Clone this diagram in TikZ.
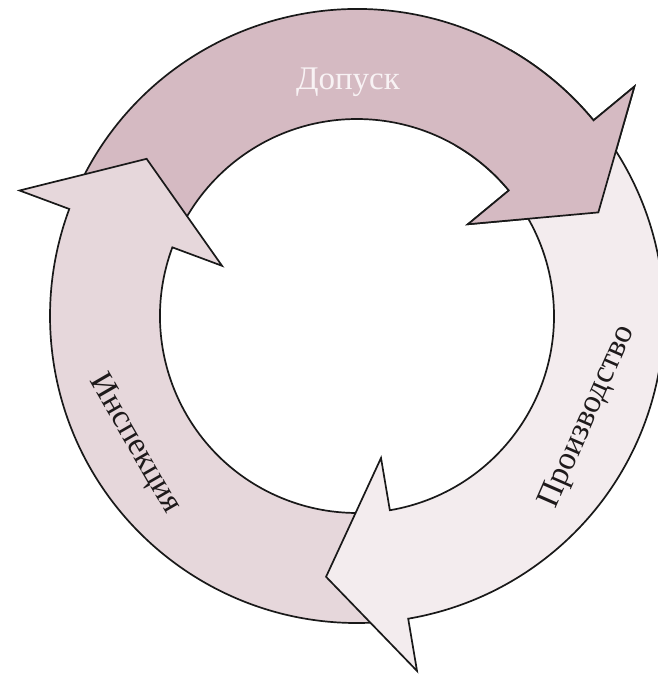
\documentclass[tikz,border=0pt]{standalone}
\usepackage{fontspec}
\setmainfont{Liberation Serif}
\usetikzlibrary{calc}
\definecolor{cDop}{HTML}{D5BAC2}
\definecolor{cIns}{HTML}{E6D7DB}
\definecolor{cPro}{HTML}{F3ECEE}
\definecolor{cTxt}{HTML}{1E1A1B}
\definecolor{cTxtW}{HTML}{F8F2F4}
\tikzset{
  ringarrow/.style={draw=black!90, line width=1.7pt, line join=miter},
  lbl/.style={font=\fontsize{33}{33}\selectfont, inner sep=0pt, text=cTxt},
}
\begin{document}
\begin{tikzpicture}
\useasboundingbox (0pt,0pt) rectangle (658pt,-678pt);
\fill[white] (0pt,0pt) rectangle (658pt,-678pt);
\begin{scope}[shift={(357pt,-316pt)}]
  % Dopusk (top)
  \path[ringarrow, fill=cDop]
    (155.6:307pt) arc[start angle=155.6, end angle=39.6, radius=307pt]
    -- (39.6:360pt) -- ($(39.6:252pt)+(-50.4:74pt)$) -- (39.6:144pt) -- (39.6:197pt)
    arc[start angle=39.6, end angle=155.6, radius=197pt] -- cycle;
  % Inspekciya (left)
  \path[ringarrow, fill=cIns]
    (275.6:307pt) arc[start angle=275.6, end angle=159.6, radius=307pt]
    -- (159.6:360pt) -- ($(159.6:252pt)+(69.6:74pt)$) -- (159.6:144pt) -- (159.6:197pt)
    arc[start angle=159.6, end angle=275.6, radius=197pt] -- cycle;
  % Proizvodstvo (right)
  \path[ringarrow, fill=cPro]
    (35.6:307pt) arc[start angle=35.6, end angle=-80.4, radius=307pt]
    -- (-80.4:360pt) -- ($(-80.4:252pt)+(-170.4:74pt)$) -- (-80.4:144pt) -- (-80.4:197pt)
    arc[start angle=-80.4, end angle=35.6, radius=197pt] -- cycle;
  % Dopusk head again, over the tail of Proizvodstvo
  \fill[cDop]
    (60:307pt) arc[start angle=60, end angle=39.6, radius=307pt]
    -- (39.6:360pt) -- ($(39.6:252pt)+(-50.4:74pt)$) -- (39.6:144pt) -- (39.6:197pt)
    arc[start angle=39.6, end angle=60, radius=197pt] -- cycle;
  \draw[ringarrow]
    (60:307pt) arc[start angle=60, end angle=39.6, radius=307pt]
    -- (39.6:360pt) -- ($(39.6:252pt)+(-50.4:74pt)$) -- (39.6:144pt) -- (39.6:197pt)
    arc[start angle=39.6, end angle=60, radius=197pt];
  % labels
  \node[lbl, text=cTxtW] (dop) at (-9pt,234pt) {Допуск};
  \node[lbl, rotate=66.4] (pro) at (231pt,-101pt) {Производство};
  \node[lbl, rotate=-60] (ins) at (-222pt,-128pt) {Инспекция};
\end{scope}
\end{tikzpicture}
\end{document}
